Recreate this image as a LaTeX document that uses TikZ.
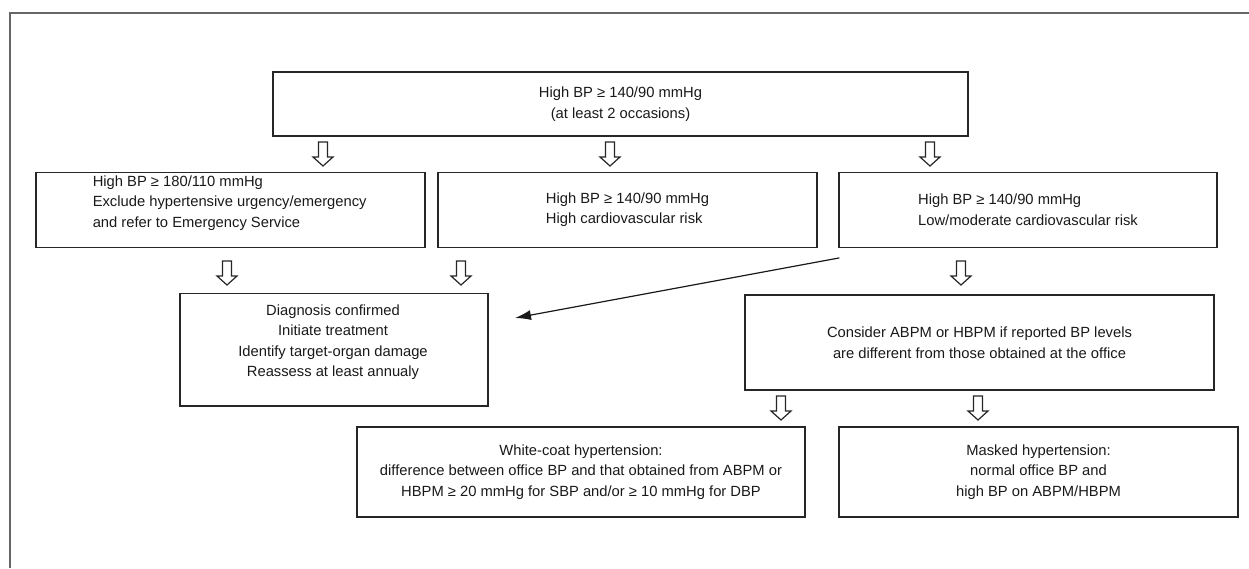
\documentclass[tikz,border=0pt]{standalone}
\usepackage{fontspec}
\setmainfont{Liberation Sans}
\usetikzlibrary{arrows.meta,calc}
\begin{document}
\begin{tikzpicture}[x=1pt,y=-1pt,
  box/.style={draw=black!85, line width=1.3pt, inner sep=0pt, rectangle},
  txt/.style={font=\fontsize{14.75}{20.5}\selectfont, text=black!90, inner sep=0pt},
  hollow/.pic={\draw[black!85, line width=1.2pt, line join=miter]
     (-4.5,0) -- (4.5,0) -- (4.5,15) -- (10,15) -- (0,24) -- (-10,15) -- (-4.5,15) -- cycle;},
  diagarrow/.style={black!90, line width=1.2pt, -{Latex[length=16pt,width=10pt]}}
]
\useasboundingbox (0,0) rectangle (1249,568);
% frame
\draw[black!60, line width=1.6pt] (10,568) -- (10,13) -- (1249,13);

% boxes
\node[box, minimum width=695, minimum height=64] (top) at (620.5,104) {};
\node[txt, align=center, font=\fontsize{14.75}{21.5}\selectfont] (toptxt) at (top.center) {High BP ≥ 140/90 mmHg\\(at least 2 occasions)};

\node[box, minimum width=389, minimum height=75] (b1) at (230.5,209.75) {};
\node[txt, align=left] (b1txt) at (229.7,203) {High BP ≥ 180/110 mmHg\\Exclude hypertensive urgency/emergency\\and refer to Emergency Service};

\node[box, minimum width=379, minimum height=75] (b2) at (627.5,209.75) {};
\node[txt, align=left] (b2txt) at (b2.center) {High BP ≥ 140/90 mmHg\\High cardiovascular risk};

\node[box, minimum width=378, minimum height=75] (b3) at (1028,209.75) {};
\node[txt, align=left] (b3txt) at (b3.center) {High BP ≥ 140/90 mmHg\\Low/moderate cardiovascular risk};

\node[box, minimum width=308, minimum height=112.5] (diag) at (334,349.75) {};
\node[txt, align=center] (diagtxt) at (333,342) {Diagnosis confirmed\\Initiate treatment\\Identify target-organ damage\\Reassess at least annualy};

\node[box, minimum width=469, minimum height=95] (abpm) at (979.5,342.5) {};
\node[txt, align=center] (abpmtxt) at (abpm.center) {Consider ABPM or HBPM if reported BP levels\\are different from those obtained at the office};

\node[box, minimum width=448, minimum height=90] (wc) at (581,472) {};
\node[txt, align=center] (wctxt) at (wc.center) {White-coat hypertension:\\difference between office BP and that obtained from ABPM or\\HBPM ≥ 20 mmHg for SBP and/or ≥ 10 mmHg for DBP};

\node[box, minimum width=399, minimum height=90] (mk) at (1038.5,472) {};
\node[txt, align=center] (mktxt) at (mk.center) {Masked hypertension:\\normal office BP and\\high BP on ABPM/HBPM};

% hollow arrows
\pic at (323,142) {hollow};
\pic at (610,142) {hollow};
\pic at (930,142) {hollow};
\pic at (227,261) {hollow};
\pic at (461,261) {hollow};
\pic at (961,261) {hollow};
\pic at (781,396) {hollow};
\pic at (978,396) {hollow};

% diagonal arrow
\coordinate (dstart) at ($(b3.south west)+(1,10)$);
\coordinate (dtip) at (515,318);
\draw[diagarrow] (dstart) -- (dtip);
\end{tikzpicture}
\end{document}
